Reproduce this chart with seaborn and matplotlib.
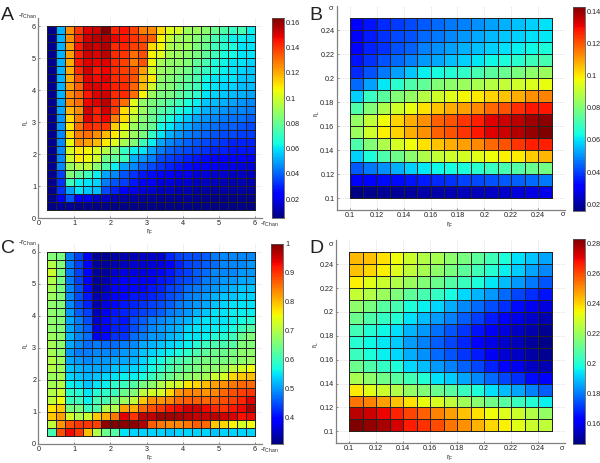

import matplotlib
matplotlib.use("Agg")
import matplotlib.pyplot as plt
import numpy as np
import seaborn as sns

# rows run from the top of each panel down
PANEL_A = [
    [7, 52, 125, 140, 150, 152, 164, 143, 146, 138, 128, 126, 112, 103, 101, 90, 90, 87, 80, 75, 70, 74, 62],
    [7, 52, 125, 142, 152, 155, 156, 148, 145, 140, 137, 133, 108, 98, 90, 90, 85, 82, 73, 68, 62, 62, 60],
    [7, 52, 122, 145, 155, 152, 157, 142, 143, 138, 137, 112, 107, 93, 91, 90, 84, 80, 72, 68, 66, 60, 60],
    [7, 52, 122, 144, 152, 150, 155, 142, 140, 130, 136, 108, 103, 92, 90, 87, 83, 78, 72, 66, 64, 60, 60],
    [7, 52, 120, 145, 150, 148, 150, 142, 138, 128, 135, 106, 92, 88, 88, 85, 78, 74, 65, 63, 60, 60, 58],
    [7, 52, 120, 142, 152, 145, 148, 142, 138, 135, 122, 101, 90, 88, 85, 82, 75, 70, 66, 62, 60, 58, 56],
    [7, 52, 120, 136, 150, 147, 150, 142, 140, 135, 118, 110, 88, 85, 82, 78, 74, 64, 60, 60, 60, 56, 55],
    [7, 52, 122, 133, 150, 150, 148, 144, 142, 132, 118, 100, 86, 85, 80, 76, 72, 62, 60, 58, 58, 54, 54],
    [7, 52, 125, 132, 145, 150, 152, 142, 142, 130, 108, 90, 84, 83, 78, 74, 68, 60, 58, 56, 54, 52, 50],
    [7, 50, 125, 130, 148, 150, 155, 140, 130, 103, 88, 84, 80, 76, 72, 66, 62, 56, 54, 52, 50, 48, 46],
    [7, 50, 118, 125, 152, 144, 152, 138, 112, 102, 90, 82, 76, 72, 65, 62, 58, 52, 50, 48, 46, 46, 44],
    [7, 48, 112, 128, 150, 143, 148, 128, 112, 96, 86, 80, 70, 66, 60, 56, 50, 48, 46, 44, 42, 42, 40],
    [7, 48, 110, 130, 142, 140, 140, 115, 105, 90, 84, 80, 64, 60, 54, 50, 46, 44, 42, 40, 40, 38, 36],
    [7, 46, 112, 128, 130, 125, 118, 110, 100, 90, 84, 70, 60, 52, 48, 44, 42, 40, 38, 36, 36, 34, 34],
    [7, 46, 105, 125, 122, 118, 110, 103, 92, 85, 72, 62, 50, 46, 42, 40, 38, 36, 34, 32, 30, 30, 30],
    [7, 46, 102, 110, 108, 102, 95, 85, 70, 62, 60, 50, 44, 40, 38, 36, 34, 32, 30, 30, 28, 28, 28],
    [7, 46, 100, 110, 106, 100, 82, 78, 72, 52, 48, 44, 36, 34, 32, 30, 28, 26, 24, 24, 24, 22, 22],
    [7, 46, 90, 95, 97, 86, 75, 62, 50, 46, 40, 36, 32, 30, 28, 26, 24, 22, 22, 20, 20, 18, 18],
    [7, 35, 85, 78, 72, 62, 50, 46, 38, 32, 28, 26, 24, 22, 20, 20, 18, 18, 16, 16, 14, 14, 14],
    [7, 32, 72, 62, 60, 58, 44, 38, 34, 28, 24, 22, 18, 18, 16, 16, 14, 14, 14, 12, 12, 12, 12],
    [7, 32, 50, 60, 56, 54, 36, 30, 24, 20, 18, 16, 14, 14, 12, 12, 10, 10, 10, 10, 10, 10, 10],
    [7, 22, 38, 22, 20, 15, 14, 12, 10, 10, 9, 9, 8, 8, 8, 8, 8, 7, 7, 7, 7, 7, 7],
    [6, 9, 8, 7, 7, 7, 6, 6, 6, 6, 6, 6, 6, 6, 6, 6, 6, 6, 6, 6, 6, 6, 6],
]
PANEL_B = [
    [31, 34, 37, 39, 41, 43, 45, 47, 48, 50, 52, 54, 56, 58, 60],
    [30, 35, 38, 41, 42, 45, 47, 49, 51, 53, 55, 57, 58, 60, 61],
    [31, 36, 38, 42, 44, 48, 50, 52, 54, 56, 58, 60, 62, 63, 65],
    [34, 38, 42, 45, 48, 51, 53, 56, 58, 61, 63, 65, 67, 70, 71],
    [37, 42, 47, 52, 57, 62, 64, 66, 68, 71, 74, 76, 79, 82, 84],
    [45, 52, 61, 67, 72, 75, 80, 82, 84, 86, 88, 90, 92, 94, 96],
    [58, 69, 74, 80, 83, 88, 92, 95, 98, 100, 103, 105, 108, 112, 114],
    [72, 80, 87, 92, 96, 101, 105, 108, 110, 113, 117, 120, 125, 128, 128],
    [83, 90, 97, 103, 108, 112, 118, 120, 124, 127, 132, 134, 136, 139, 141],
    [84, 92, 99, 103, 108, 112, 118, 120, 124, 128, 132, 134, 137, 140, 143],
    [72, 80, 87, 93, 97, 101, 105, 108, 110, 113, 117, 120, 124, 127, 127],
    [58, 65, 72, 77, 82, 87, 90, 92, 93, 95, 97, 99, 100, 104, 107],
    [43, 47, 50, 54, 58, 61, 63, 64, 65, 67, 69, 71, 73, 76, 78],
    [31, 32, 33, 33, 34, 35, 37, 38, 40, 41, 42, 43, 44, 45, 47],
    [17, 18, 19, 19, 20, 21, 21, 22, 23, 23, 24, 25, 26, 27, 28],
]
PANEL_C = [
    [660, 650, 480, 440, 380, 330, 325, 335, 340, 345, 355, 355, 360, 420, 440, 450, 450, 460, 480, 490, 490, 490, 490],
    [700, 660, 480, 440, 390, 330, 330, 340, 350, 360, 360, 365, 370, 390, 420, 440, 450, 460, 470, 490, 490, 490, 500],
    [720, 650, 480, 440, 390, 330, 330, 360, 370, 370, 370, 380, 400, 410, 430, 440, 460, 470, 490, 490, 490, 500, 500],
    [700, 650, 480, 440, 390, 330, 340, 380, 390, 400, 390, 390, 410, 420, 440, 450, 460, 480, 490, 500, 500, 510, 510],
    [690, 650, 490, 450, 400, 330, 350, 390, 390, 400, 400, 410, 420, 440, 450, 470, 480, 490, 500, 510, 520, 530, 530],
    [680, 660, 490, 450, 410, 340, 360, 390, 400, 410, 410, 420, 430, 450, 460, 480, 490, 500, 520, 530, 530, 540, 540],
    [670, 660, 490, 450, 420, 340, 370, 400, 410, 420, 430, 440, 450, 460, 480, 490, 500, 510, 530, 540, 550, 550, 550],
    [670, 660, 500, 460, 440, 350, 380, 410, 420, 430, 440, 450, 460, 480, 490, 500, 520, 530, 550, 550, 560, 560, 560],
    [670, 660, 510, 480, 450, 360, 400, 420, 410, 450, 460, 480, 490, 500, 510, 520, 540, 550, 550, 550, 560, 570, 580],
    [670, 660, 510, 480, 460, 370, 390, 420, 420, 450, 470, 490, 500, 510, 520, 540, 550, 550, 560, 560, 570, 600, 620],
    [680, 670, 520, 490, 470, 380, 400, 430, 430, 470, 480, 500, 500, 520, 530, 550, 550, 560, 580, 580, 600, 640, 660],
    [690, 670, 510, 490, 470, 480, 470, 470, 480, 490, 510, 520, 530, 540, 550, 560, 580, 600, 610, 610, 620, 660, 660],
    [690, 670, 500, 480, 480, 490, 490, 490, 500, 510, 530, 540, 550, 560, 570, 590, 610, 630, 640, 640, 650, 670, 670],
    [700, 680, 510, 500, 490, 500, 500, 510, 510, 520, 540, 560, 570, 600, 610, 620, 640, 650, 650, 650, 660, 670, 680],
    [700, 680, 530, 520, 510, 510, 510, 530, 530, 540, 550, 570, 590, 610, 630, 640, 650, 670, 670, 680, 710, 730, 750],
    [680, 690, 540, 530, 520, 530, 540, 550, 560, 560, 570, 600, 620, 640, 660, 670, 680, 690, 720, 730, 780, 790, 800],
    [690, 700, 560, 550, 530, 550, 560, 590, 600, 620, 650, 670, 700, 720, 730, 770, 780, 800, 820, 830, 850, 860, 860],
    [700, 720, 590, 580, 550, 580, 590, 600, 640, 660, 710, 730, 730, 780, 830, 840, 840, 830, 840, 860, 880, 890, 900],
    [710, 750, 600, 600, 560, 610, 610, 650, 680, 710, 790, 830, 830, 840, 860, 870, 870, 860, 870, 880, 890, 910, 940],
    [770, 790, 650, 650, 600, 620, 700, 700, 820, 810, 860, 880, 900, 920, 930, 950, 950, 930, 910, 900, 920, 930, 970],
    [790, 820, 730, 700, 720, 790, 810, 850, 940, 900, 960, 960, 980, 980, 975, 965, 955, 955, 960, 950, 945, 925, 930],
    [710, 830, 880, 900, 900, 890, 990, 1000, 990, 990, 970, 870, 850, 840, 840, 850, 870, 860, 790, 780, 760, 730, 750],
    [610, 880, 930, 900, 800, 700, 640, 620, 550, 540, 540, 540, 540, 530, 540, 540, 540, 540, 530, 540, 540, 540, 540],
]
PANEL_D = [
    [244, 243, 238, 234, 228, 224, 222, 218, 214, 210, 205, 199, 194, 190, 186],
    [243, 240, 236, 231, 226, 222, 218, 214, 210, 205, 201, 196, 191, 186, 182],
    [236, 232, 228, 224, 220, 216, 212, 208, 204, 199, 195, 189, 184, 180, 175],
    [227, 224, 220, 215, 210, 206, 203, 198, 193, 188, 184, 178, 173, 170, 166],
    [218, 214, 209, 206, 199, 196, 192, 187, 182, 178, 174, 170, 165, 160, 158],
    [212, 207, 203, 200, 194, 189, 185, 181, 176, 172, 167, 163, 159, 156, 153],
    [205, 200, 197, 194, 188, 184, 179, 175, 171, 166, 161, 158, 155, 152, 149],
    [201, 197, 195, 191, 185, 181, 176, 173, 169, 163, 159, 156, 154, 150, 148],
    [204, 199, 196, 193, 187, 183, 178, 175, 171, 167, 161, 157, 155, 151, 149],
    [212, 207, 203, 199, 193, 189, 184, 181, 177, 173, 168, 164, 160, 155, 153],
    [222, 218, 213, 209, 205, 200, 194, 191, 186, 182, 178, 173, 170, 165, 162],
    [237, 232, 228, 224, 219, 216, 212, 209, 204, 199, 194, 189, 186, 181, 176],
    [254, 252, 248, 243, 238, 233, 230, 226, 221, 217, 213, 209, 204, 200, 196],
    [276, 274, 270, 266, 261, 257, 252, 248, 243, 238, 234, 231, 228, 224, 219],
    [283, 281, 278, 273, 267, 264, 260, 254, 250, 245, 240, 236, 232, 228, 226],
]

RATE_TICKS = [0, 1, 2, 3, 4, 5, 6]
SIGMA_TICKS = [0.1, 0.12, 0.14, 0.16, 0.18, 0.2, 0.22, 0.24]
CBAR_A = [0.02, 0.04, 0.06, 0.08, 0.1, 0.12, 0.14, 0.16]
CBAR_B = [0.02, 0.04, 0.06, 0.08, 0.1, 0.12, 0.14]
CBAR_C = [0.4, 0.5, 0.6, 0.7, 0.8, 0.9, 1]
CBAR_D = [0.16, 0.18, 0.2, 0.22, 0.24, 0.26, 0.28]

W, H = 600, 463
sns.set_theme(style="white")
plt.rcParams["font.family"] = "Liberation Sans"
plt.rcParams["mathtext.default"] = "regular"
fig = plt.figure(figsize=(W / 100, H / 100), dpi=100)


def px_axes(x0, y0, x1, y1):
    """Axes from pixel corners, y counted from the top of the image."""
    return fig.add_axes([x0 / W, 1 - y1 / H, (x1 - x0) / W, (y1 - y0) / H])


def px_text(x, y, s, **kw):
    fig.text(x / W, 1 - y / H, s, color="#222222", **kw)


def draw_panel(values, box, cbox, vlim, cticks, start, step, ticks, over):
    ax, cax = px_axes(*box), px_axes(*cbox)
    arr = np.array(values) / 1000
    sns.heatmap(arr, cmap="jet", vmin=vlim[0], vmax=vlim[1], linewidths=0.45, linecolor="#222222",
                xticklabels=False, yticklabels=False, ax=ax, cbar_ax=cax)
    n = arr.shape[0]
    to_x = lambda v: (v - start) / step
    to_y = lambda v: n - (v - start) / step
    ax.set_xlim(to_x(over[0]), to_x(over[1]))
    ax.set_ylim(to_y(over[2]), to_y(over[3]))
    ax.set_xticks([to_x(t) for t in ticks])
    ax.set_xticklabels([f"{t:g}" for t in ticks], fontsize=5.2, color="#222222")
    ax.set_yticks([to_y(t) for t in ticks])
    ax.set_yticklabels([f"{t:g}" for t in ticks], fontsize=5.2, color="#222222")
    ax.tick_params(length=1.5, width=0.5, pad=1.5, color="#666666", left=True, bottom=True, direction="in")
    ax.grid(True, linestyle=":", linewidth=0.5, color="#c8c8c8")
    ax.set_axisbelow(True)
    sns.despine(ax=ax)
    for side in ("left", "bottom"):
        ax.spines[side].set_visible(True)
        ax.spines[side].set_color("#808080")
        ax.spines[side].set_linewidth(0.9)
    cax.set_yticks(cticks)
    cax.set_yticklabels([f"{t:g}" for t in cticks], fontsize=5.2, color="#222222")
    cax.tick_params(length=0, pad=1.5, right=False)
    for s in cax.spines.values():
        s.set_visible(True)
        s.set_linewidth(0.4)
        s.set_color("#555555")


draw_panel(PANEL_A, (38.3, 18.3, 262, 218.3), (272, 18.3, 283.5, 218.3), (0.0047, 0.1634), CBAR_A,
           0.25, 0.25, RATE_TICKS, (0, 6.2, 0, 6.25))
draw_panel(PANEL_B, (336.5, 6.5, 565, 210.3), (573, 6.7, 584.5, 210.7), (0.0161, 0.1427), CBAR_B,
           0.1, 0.01, SIGMA_TICKS, (0.09, 0.26, 0.09, 0.26))
draw_panel(PANEL_C, (38.3, 244, 262, 443.7), (271, 243.7, 283, 444), (0.31, 1.0), CBAR_C,
           0.25, 0.25, RATE_TICKS, (0, 6.2, 0, 6.25))
draw_panel(PANEL_D, (335.7, 240.3, 565, 443.3), (573, 239, 585, 444), (0.1466, 0.2833), CBAR_D,
           0.1, 0.01, SIGMA_TICKS, (0.09, 0.26, 0.09, 0.26))

CHAN = r"-r$_{Chan}$"
SIGMA = "\u03c3"
R_F = r"r$_{F}$"
R_L = r"r$_{L}$"
small = dict(fontsize=5.2, ha="center", va="center")
# panel letters
for letter, x, y in [("A", 1, 20), ("B", 309, 20), ("C", 1, 253), ("D", 309, 253)]:
    px_text(x, y, letter, fontsize=14, ha="left", va="baseline")
# axis labels
for x, y in [(150, 232), (450, 225), (150, 458), (450, 458)]:
    px_text(x, y, R_F, **small)
for x, y in [(26, 122), (317, 113), (26, 345), (316, 344)]:
    px_text(x, y, R_L, rotation=90, **small)
# labels at the ends of the axes
for x, y in [(27, 16), (269, 224), (27, 243), (269, 450)]:
    px_text(x, y, CHAN, **small)
for x, y in [(331, 9), (563, 215), (331, 245), (562, 449)]:
    px_text(x, y, SIGMA, **small)

fig.savefig("out.png", dpi=100)
